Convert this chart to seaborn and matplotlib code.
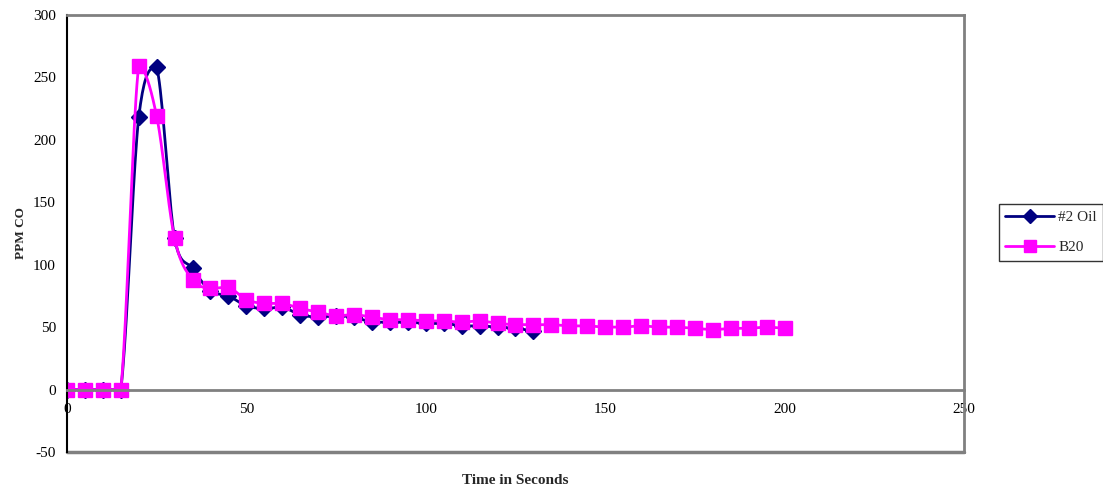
import numpy as np
import matplotlib
matplotlib.use('Agg')
import matplotlib.pyplot as plt
from matplotlib.lines import Line2D
import seaborn as sns

# Data
oil_time = [0, 5, 10, 15, 20, 25, 30, 35, 40, 45, 50, 55, 60, 65, 70, 75, 80, 85,
            90, 95, 100, 105, 110, 115, 120, 125, 130]
oil_ppm = [0, 0, 0, 0, 218, 258, 121, 97, 79, 75, 67, 65, 66, 60, 58, 59, 58, 54,
           54, 54, 53, 53, 51, 51, 50, 49, 47]

b20_time = [0, 5, 10, 15, 20, 25, 30, 35, 40, 45, 50, 55, 60, 65, 70, 75, 80, 85,
            90, 95, 100, 105, 110, 115, 120, 125, 130, 135, 140, 145, 150, 155, 160,
            165, 170, 175, 180, 185, 190, 195, 200]
b20_ppm = [0, 0, 0, 0, 259, 219, 121, 88, 81, 82, 72, 69, 69, 65, 62, 59, 60, 58,
           56, 56, 55, 55, 54, 55, 53, 52, 52, 52, 51, 51, 50, 50, 51,
           50, 50, 49, 48, 49, 49, 50, 49]

x_ticks = [0, 50, 100, 150, 200, 250]
y_ticks = [-50, 0, 50, 100, 150, 200, 250, 300]


def smooth(x, y, steps=20):
    # Excel-style smoothed line: bezier through the points,
    # control points kept inside each segment's y-range to avoid overshoot
    p = np.column_stack([x, y]).astype(float)
    p = np.vstack([p[0], p, p[-1]])
    out = []
    t = np.linspace(0, 1, steps, endpoint=False)[:, None]
    for i in range(1, len(p) - 2):
        p0, p1, p2, p3 = p[i - 1], p[i], p[i + 1], p[i + 2]
        c1 = p1 + (p2 - p0) / 6
        c2 = p2 - (p3 - p1) / 6
        lo, hi = min(p1[1], p2[1]), max(p1[1], p2[1])
        c1[1] = np.clip(c1[1], lo, hi)
        c2[1] = np.clip(c2[1], lo, hi)
        seg = ((1 - t) ** 3) * p1 + 3 * ((1 - t) ** 2) * t * c1 + 3 * (1 - t) * t ** 2 * c2 + t ** 3 * p2
        out.append(seg)
    out.append(p[-2][None, :])
    out = np.vstack(out)
    return out[:, 0], out[:, 1]


sns.set_style('white')
plt.rcParams['font.family'] = ['Liberation Serif', 'DejaVu Serif']
plt.rcParams['axes.unicode_minus'] = False

fig = plt.figure(figsize=(11.03, 4.93), dpi=100)
ax = fig.add_axes([0.0607, 0.0832, 0.8133, 0.8864])

oil_color = '#000080'
b20_color = '#FF00FF'

sx, sy = smooth(oil_time, oil_ppm)
sns.lineplot(x=sx, y=sy, ax=ax, color=oil_color, lw=2, sort=False, estimator=None)
ax.plot(oil_time, oil_ppm, ls='none', marker='D', ms=8, color=oil_color)

sx, sy = smooth(b20_time, b20_ppm)
sns.lineplot(x=sx, y=sy, ax=ax, color=b20_color, lw=2, sort=False, estimator=None)
ax.plot(b20_time, b20_ppm, ls='none', marker='s', ms=10, color=b20_color)

ax.set_xlim(0, 250)
ax.set_ylim(-50, 300)
ax.set_xticks(x_ticks)
ax.set_yticks(y_ticks)
ax.tick_params(axis='both', labelsize=11, direction='out', length=5, width=1,
               colors='black', pad=3)
ax.tick_params(axis='x', length=0, pad=10)

# x axis crosses at zero, plot-area border in gray
ax.spines['bottom'].set_position(('data', 0))
ax.spines['bottom'].set_color('#808080')
ax.spines['bottom'].set_linewidth(2)
for side in ['top', 'right']:
    ax.spines[side].set_color('#808080')
    ax.spines[side].set_linewidth(2)
ax.spines['left'].set_color('black')
ax.spines['left'].set_linewidth(1.5)
ax.axhline(-50, color='#808080', lw=2.5, clip_on=False)

ax.set_ylabel('PPM CO', fontsize=9.5, fontweight='bold')
ax.yaxis.set_label_coords(-0.045, 0.5)
fig.text(0.467, 0.026, 'Time in Seconds', ha='center', va='center',
         fontsize=11, fontweight='bold')

handles = [
    Line2D([], [], color=oil_color, lw=2, marker='D', ms=7),
    Line2D([], [], color=b20_color, lw=2, marker='s', ms=8),
]
leg = fig.legend(handles, ['#2 Oil', 'B20'], loc='upper left',
                 bbox_to_anchor=(0.906, 0.586), bbox_transform=fig.transFigure,
                 fontsize=11, frameon=True, fancybox=False, handlelength=3.2,
                 borderpad=0.4, labelspacing=1.1, handletextpad=0.25,
                 borderaxespad=0)
leg.get_frame().set_edgecolor('black')
leg.get_frame().set_linewidth(1)

fig.savefig('out.png', dpi=100)
